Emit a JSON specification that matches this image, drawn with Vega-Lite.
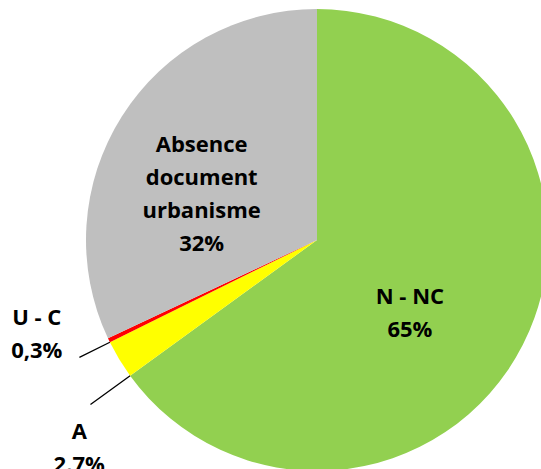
{
  "$schema": "https://vega.github.io/schema/vega-lite/v6.json",
  "width": 448,
  "height": 458,
  "autosize": {"type": "none"},
  "padding": {"left": 93, "top": 11, "right": 0, "bottom": 0},
  "background": "white",
  "config": {"view": {"stroke": null}, "text": {"font": "Open Sans"}},
  "data": {
    "values": [
      {"cat": "N - NC", "value": 65, "ord": 1, "label": "N - NC\n65%"},
      {"cat": "A", "value": 2.7, "ord": 2, "label": "A\n2.7%"},
      {"cat": "U - C", "value": 0.3, "ord": 3, "label": "U - C\n0,3%"},
      {"cat": "Absence document urbanisme", "value": 32, "ord": 4, "label": "Absence\ndocument\nurbanisme\n32%"}
    ]
  },
  "resolve": {"scale": {"theta": "independent"}},
  "layer": [
    {
      "mark": {"type": "arc", "radius": 231},
      "encoding": {
        "theta": {"field": "value", "type": "quantitative", "stack": true},
        "color": {
          "field": "cat",
          "type": "nominal",
          "scale": {
            "domain": ["N - NC", "A", "U - C", "Absence document urbanisme"],
            "range": ["#92D050", "#FFFF00", "#FF0000", "#BFBFBF"]
          },
          "legend": null
        },
        "order": {"field": "ord", "type": "quantitative"}
      }
    },
    {
      "transform": [
        {"window": [{"op": "sum", "field": "value", "as": "cum"}], "sort": [{"field": "ord"}], "frame": [null, 0]},
        {"calculate": "datum.cum - datum.value", "as": "start"},
        {"filter": "datum.cat == 'U - C'"}
      ],
      "mark": {"type": "arc", "radius": 265, "radius2": 231, "stroke": "black", "strokeWidth": 1.3, "fill": "black"},
      "encoding": {
        "theta": {"field": "start", "type": "quantitative", "scale": {"domain": [0, 100]}},
        "theta2": {"field": "start"}
      }
    },
    {
      "transform": [
        {"window": [{"op": "sum", "field": "value", "as": "cum"}], "sort": [{"field": "ord"}], "frame": [null, 0]},
        {"calculate": "datum.cum - datum.value", "as": "start"},
        {"filter": "datum.cat == 'A'"}
      ],
      "mark": {"type": "arc", "radius": 280, "radius2": 231, "stroke": "black", "strokeWidth": 1.3, "fill": "black"},
      "encoding": {
        "theta": {"field": "start", "type": "quantitative", "scale": {"domain": [0, 100]}},
        "theta2": {"field": "start"}
      }
    },
    {
      "mark": {"type": "text", "radius": 120, "dx": -14, "dy": -30.5, "fontSize": 22, "fontWeight": "bold", "lineBreak": "\n", "lineHeight": 33, "align": "center", "baseline": "middle", "color": "black"},
      "encoding": {
        "theta": {"field": "value", "type": "quantitative", "stack": true},
        "detail": {"field": "cat"},
        "order": {"field": "ord", "type": "quantitative"},
        "text": {"condition": {"test": "datum.ord == 4", "field": "label"}, "value": ""}
      }
    },
    {
      "mark": {"type": "text", "radius": 120, "dx": -14, "dy": 2.5, "fontSize": 22, "fontWeight": "bold", "lineBreak": "\n", "lineHeight": 33, "align": "center", "baseline": "middle", "color": "black"},
      "encoding": {
        "theta": {"field": "value", "type": "quantitative", "stack": true},
        "detail": {"field": "cat"},
        "order": {"field": "ord", "type": "quantitative"},
        "text": {"condition": {"test": "datum.ord == 1", "field": "label"}, "value": ""}
      }
    },
    {
      "mark": {"type": "text", "radius": 300, "dx": -10, "dy": -52.5, "fontSize": 22, "fontWeight": "bold", "lineBreak": "\n", "lineHeight": 33, "align": "center", "baseline": "middle", "color": "black"},
      "encoding": {
        "theta": {"field": "value", "type": "quantitative", "stack": true},
        "detail": {"field": "cat"},
        "order": {"field": "ord", "type": "quantitative"},
        "text": {"condition": {"test": "datum.cat == 'U - C'", "field": "label"}, "value": ""}
      }
    },
    {
      "mark": {"type": "text", "radius": 300, "dx": 19, "dy": 36.5, "fontSize": 22, "fontWeight": "bold", "lineBreak": "\n", "lineHeight": 33, "align": "center", "baseline": "middle", "color": "black"},
      "encoding": {
        "theta": {"field": "value", "type": "quantitative", "stack": true},
        "detail": {"field": "cat"},
        "order": {"field": "ord", "type": "quantitative"},
        "text": {"condition": {"test": "datum.cat == 'A'", "field": "label"}, "value": ""}
      }
    }
  ]
}
